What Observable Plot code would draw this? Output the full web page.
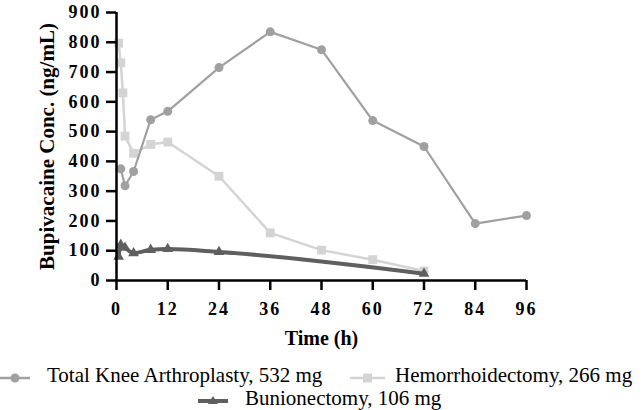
<!DOCTYPE html>
<html>
<head>
<meta charset="utf-8">
<script src="https://cdn.jsdelivr.net/npm/d3@7"></script>
<script src="https://cdn.jsdelivr.net/npm/@observablehq/plot@0.6"></script>
<style>
  body { margin: 0; background: #fff; width: 644px; height: 410px; overflow: hidden; }
  #legend { position: relative; width: 644px; height: 55px; font-family: "Liberation Serif", "Times New Roman", serif; font-size: 21px; color: #000; }
  .sw { position: absolute; }
  .lt { position: absolute; white-space: nowrap; line-height: 24px; }
  .tick-lbl text { letter-spacing: 2px; }
</style>
</head>
<body>
<div id="chart"></div>
<div id="legend"></div>
<script>
const seriesNames = ["Total Knee Arthroplasty, 532 mg", "Hemorrhoidectomy, 266 mg", "Bunionectomy, 106 mg"];
const tkaTime = [1, 2, 4, 8, 12, 24, 36, 48, 60, 72, 84, 96];
const tkaConc = [375, 318, 366, 540, 568, 715, 835, 775, 537, 450, 191, 218];
const hemTime = [0.5, 1, 1.5, 2, 4, 8, 12, 24, 36, 48, 60, 72];
const hemConc = [797, 731, 630, 485, 427, 457, 465, 350, 160, 102, 70, 32];
const bunTime = [0.5, 1, 2, 4, 8, 12, 24, 72];
const bunConc = [80, 120, 110, 92, 103, 106, 96, 23];
const xTicks = [0, 12, 24, 36, 48, 60, 72, 84, 96];
const yTicks = [0, 100, 200, 300, 400, 500, 600, 700, 800, 900];

const colors = ["#a0a0a0", "#d4d4d4", "#5f5f5f"];
const tka = tkaTime.map((t, i) => ({t, c: tkaConc[i]}));
const hem = hemTime.map((t, i) => ({t, c: hemConc[i]}));
const bun = bunTime.map((t, i) => ({t, c: bunConc[i]}));

const chart = Plot.plot({
  width: 644,
  height: 355,
  marginTop: 12,
  marginBottom: 75,
  marginLeft: 116,
  marginRight: 118,
  style: {fontFamily: "Liberation Serif, serif", fontSize: "18px", fontWeight: "bold", color: "#000", background: "#fff", overflow: "visible"},
  x: {domain: [0, 96]},
  y: {domain: [0, 900]},
  marks: [
    Plot.line(hem, {x: "t", y: "c", stroke: colors[1], strokeWidth: 2.5}),
    Plot.dot(hem, {x: "t", y: "c", symbol: "square", r: 5, fill: colors[1]}),
    Plot.line(tka, {x: "t", y: "c", stroke: colors[0], strokeWidth: 2.2}),
    Plot.dot(tka, {x: "t", y: "c", symbol: "circle", r: 4.5, fill: colors[0]}),
    Plot.line(bun, {x: "t", y: "c", stroke: colors[2], strokeWidth: 4, curve: "monotone-x"}),
    Plot.dot(bun, {x: "t", y: "c", symbol: "triangle", r: 4, fill: colors[2]}),
    Plot.axisX({ticks: xTicks, tickSize: 10, tickPadding: 12, strokeWidth: 2.5, label: null, tickFormat: d => d, className: "tick-lbl"}),
    Plot.axisY({ticks: yTicks, tickSize: 10, tickPadding: 5, strokeWidth: 2.5, label: null, tickFormat: d => d, className: "tick-lbl"}),
    Plot.ruleY([0], {stroke: "#000", strokeWidth: 2.5}),
    Plot.ruleX([0], {stroke: "#000", strokeWidth: 2.5}),
    Plot.text(["Time (h)"], {frameAnchor: "bottom", dy: 64, fontSize: 20, fontWeight: "bold", fill: "#000"}),
    Plot.text(["Bupivacaine Conc. (ng/mL)"], {frameAnchor: "left", dx: -69, rotate: -90, textAnchor: "middle", fontSize: 21, fontWeight: "bold", fill: "#000"})
  ]
});
document.getElementById("chart").appendChild(chart);

function swatch(i, w) {
  const sym = ["circle", "square", "triangle"][i];
  const h = 16;
  let marker;
  if (sym === "circle") marker = `<circle cx="${w/2}" cy="${h/2}" r="4.5" fill="${colors[i]}"/>`;
  else if (sym === "square") marker = `<rect x="${w/2-4.5}" y="${h/2-4.5}" width="9" height="9" fill="${colors[i]}"/>`;
  else marker = `<path d="M${w/2},${h/2-5}L${w/2+5},${h/2+3}L${w/2-5},${h/2+3}Z" fill="${colors[i]}"/>`;
  return `<svg width="${w}" height="${h}"><line x1="0" x2="${w}" y1="${h/2}" y2="${h/2}" stroke="${colors[i]}" stroke-width="${i===2?4:2.5}"/>${marker}</svg>`;
}
const legend = document.getElementById("legend");
legend.innerHTML =
  `<div class="sw" style="left:0px;top:12px">${swatch(0, 30)}</div>` +
  `<div class="lt" style="left:47px;top:8px">${seriesNames[0]}</div>` +
  `<div class="sw" style="left:350px;top:12px">${swatch(1, 35)}</div>` +
  `<div class="lt" style="left:395px;top:8px">${seriesNames[1]}</div>` +
  `<div class="sw" style="left:198px;top:35px">${swatch(2, 30)}</div>` +
  `<div class="lt" style="left:245px;top:31px">${seriesNames[2]}</div>`;
</script>
</body>
</html>
